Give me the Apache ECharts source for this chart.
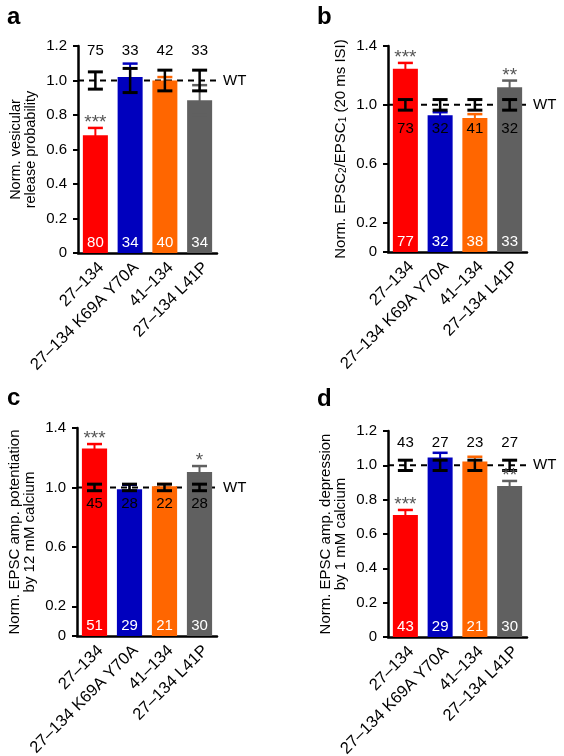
<!DOCTYPE html>
<html><head><meta charset="utf-8">
<script src="https://cdn.jsdelivr.net/npm/echarts@6/dist/echarts.min.js"></script>
<style>html,body{margin:0;padding:0;background:#fff}#c{width:564px;height:756px}</style>
</head><body><div id="c"></div>
<script>
// ---------- data ----------
const categories = ['27–134', '27–134 K69A Y70A', '41–134', '27–134 L41P'];
const wtRef = 1.0;

// a: Norm. vesicular release probability
const aMean  = [0.683, 1.02, 1.00, 0.886];
const aErr   = [0.042, 0.078, 0.02, 0.087];
const aWtErr = [0.05, 0.07, 0.06, 0.06];
const aWtN   = [75, 33, 42, 33];
const aMutN  = [80, 34, 40, 34];
const aStars = ['***', '', '', ''];
const aTicks = [0, 0.2, 0.4, 0.6, 0.8, 1.0, 1.2];

// b: Norm. EPSC2/EPSC1 (20 ms ISI)
const bMean  = [1.245, 0.93, 0.91, 1.12];
const bErr   = [0.04, 0.02, 0.027, 0.045];
const bWtErr = [0.036, 0.036, 0.036, 0.036];
const bWtN   = [73, 32, 41, 32];
const bMutN  = [77, 32, 38, 33];
const bStars = ['***', '', '', '**'];
const bTicks = [0, 0.2, 0.6, 1.0, 1.4];

// c: Norm. EPSC amp. potentiation by 12 mM calcium
const cMean  = [1.262, 0.988, 1.008, 1.104];
const cErr   = [0.03, 0.03, 0.015, 0.04];
const cWtErr = [0.022, 0.022, 0.022, 0.022];
const cWtN   = [45, 28, 22, 28];
const cMutN  = [51, 29, 21, 30];
const cStars = ['***', '', '', '*'];
const cTicks = [0, 0.2, 0.6, 1.0, 1.4];

// d: Norm. EPSC amp. depression by 1 mM calcium
const dMean  = [0.71, 1.046, 1.023, 0.879];
const dErr   = [0.03, 0.027, 0.027, 0.03];
const dWtErr = [0.03, 0.03, 0.03, 0.03];
const dWtN   = [43, 27, 23, 27];
const dMutN  = [43, 29, 21, 30];
const dStars = ['***', '', '', '**'];
const dTicks = [0, 0.2, 0.4, 0.6, 0.8, 1.0, 1.2];

// ---------- style / layout ----------
const barColors = ['#FF0000', '#0000BE', '#FF6600', '#606060'];
const FONT = '"Liberation Sans", Arial, Helvetica, sans-serif';
const FS = 15;

const panels = [
  { letter: 'a', lx: 7, ly: 18, grid: { left: 78, top: 46, width: 139, height: 207 }, max: 1.2, ticks: aTicks,
    name: 'Norm. vesicular\nrelease probability', nameFs: 14.5,
    mean: aMean, err: aErr, wtErr: aWtErr, wtN: aWtN, mutN: aMutN, stars: aStars, wtNAt: 1.17 },
  { letter: 'b', lx: 317, ly: 18, grid: { left: 388, top: 46, width: 139, height: 206 }, max: 1.4, ticks: bTicks,
    name: 'Norm. EPSC{s|2}/EPSC{s|1} (20 ms ISI)', nameFs: 15,
    mean: bMean, err: bErr, wtErr: bWtErr, wtN: bWtN, mutN: bMutN, stars: bStars, wtNAt: 0.84 },
  { letter: 'c', lx: 7, ly: 399, grid: { left: 77, top: 428, width: 140, height: 208 }, max: 1.4, ticks: cTicks,
    name: 'Norm. EPSC amp. potentiation\nby 12 mM calcium', nameFs: 15,
    mean: cMean, err: cErr, wtErr: cWtErr, wtN: cWtN, mutN: cMutN, stars: cStars, wtNAt: 0.892 },
  { letter: 'd', lx: 317, ly: 400, grid: { left: 388, top: 431, width: 139, height: 206 }, max: 1.2, ticks: dTicks,
    name: 'Norm. EPSC amp. depression\nby 1 mM calcium', nameFs: 15,
    mean: dMean, err: dErr, wtErr: dWtErr, wtN: dWtN, mutN: dMutN, stars: dStars, wtNAt: 1.13 }
];

const grids = [], xAxes = [], yAxes = [], series = [], graphics = [];

function errBar(color, wMain, wCap, hw) {
  return function (params, api) {
    const i = api.value(0), m = api.value(1), e = api.value(2);
    const top = api.coord([i, m + e]), bot = api.coord([i, m - e]);
    const c = typeof color === 'function' ? color(params.dataIndex) : color;
    return { type: 'group', children: [
      { type: 'line', shape: { x1: top[0], y1: top[1], x2: bot[0], y2: bot[1] }, style: { stroke: c, lineWidth: wMain } },
      { type: 'line', shape: { x1: top[0] - hw, y1: top[1], x2: top[0] + hw, y2: top[1] }, style: { stroke: c, lineWidth: wCap } },
      { type: 'line', shape: { x1: bot[0] - hw, y1: bot[1], x2: bot[0] + hw, y2: bot[1] }, style: { stroke: c, lineWidth: wCap } }
    ] };
  };
}

panels.forEach((p, k) => {
  grids.push(Object.assign({ containLabel: false }, p.grid));
  xAxes.push({
    type: 'category', gridIndex: k, data: categories,
    axisLine: { lineStyle: { color: '#000', width: 2.5 } },
    axisTick: { show: false },
    axisLabel: { show: false }
  });
  yAxes.push({
    type: 'value', gridIndex: k, min: 0, max: p.max,
    splitLine: { show: false },
    axisLine: { show: true, lineStyle: { color: '#000', width: 2.5 } },
    axisTick: { show: true, length: 5, customValues: p.ticks, lineStyle: { color: '#000', width: 2 } },
    axisLabel: { customValues: p.ticks, color: '#000', fontSize: FS, fontFamily: FONT, margin: 11,
      formatter: v => (v === 0 ? '0' : v.toFixed(1)) },
    name: p.name, nameLocation: 'middle', nameRotate: 90, nameGap: 40,
    nameTextStyle: { color: '#000', fontSize: p.nameFs, fontFamily: FONT, lineHeight: 14.5, align: 'center',
      rich: { s: { fontSize: 10, fontFamily: FONT, color: '#000', verticalAlign: 'bottom', lineHeight: 14 } } }
  });

  // rotated category labels
  series.push({
    type: 'custom', xAxisIndex: k, yAxisIndex: k, z: 5, silent: true, clip: false,
    data: categories.map((c, i) => [i, 0]),
    renderItem: (params, api) => {
      const pt = api.coord([api.value(0), api.value(1)]);
      return { type: 'text', x: pt[0] + 6, y: pt[1] + 12, rotation: Math.PI / 4,
        style: { text: categories[params.dataIndex], x: 0, y: 0, align: 'right', verticalAlign: 'middle',
          fill: '#000', fontSize: 16.5, fontFamily: FONT } };
    }
  });

  // dashed WT reference line + label
  series.push({
    type: 'custom', xAxisIndex: k, yAxisIndex: k, z: 1, silent: true,
    data: [[0, wtRef]],
    renderItem: (params, api) => {
      const cs = params.coordSys;
      const y = api.coord([0, api.value(1)])[1];
      const x0 = cs.x, x1 = cs.x + cs.width + 3;
      return { type: 'group', children: [
        { type: 'line', shape: { x1: x0, y1: y, x2: x1, y2: y }, style: { stroke: '#000', lineWidth: 2, lineDash: [6, 5] } },
        { type: 'text', style: { text: 'WT', x: x1 + 3, y: y, verticalAlign: 'middle', align: 'left', fill: '#000', fontSize: FS, fontFamily: FONT } }
      ] };
    }
  });

  // bars
  series.push({
    type: 'bar', xAxisIndex: k, yAxisIndex: k, z: 2, barWidth: '72%',
    data: p.mean.map((v, i) => ({ value: v, itemStyle: { color: barColors[i] } })),
    label: { show: true, position: 'insideBottom', distance: 3, color: '#fff', fontSize: FS, fontFamily: FONT,
      formatter: prm => String(p.mutN[prm.dataIndex]) }
  });

  // mutant error bars
  series.push({
    type: 'custom', xAxisIndex: k, yAxisIndex: k, z: 3, silent: true,
    data: p.mean.map((v, i) => [i, v, p.err[i]]),
    renderItem: errBar(i => barColors[i], 2, 2.5, 7.5)
  });

  // WT error bars
  series.push({
    type: 'custom', xAxisIndex: k, yAxisIndex: k, z: 4, silent: true,
    data: p.wtErr.map((e, i) => [i, wtRef, e]),
    renderItem: errBar('#000', 2.5, 3, 7.5)
  });

  // WT n labels
  series.push({
    type: 'custom', xAxisIndex: k, yAxisIndex: k, z: 5, silent: true,
    data: p.wtN.map((n, i) => [i, p.wtNAt, n]),
    renderItem: (params, api) => {
      const pt = api.coord([api.value(0), api.value(1)]);
      return { type: 'text', style: { text: String(api.value(2)), x: pt[0], y: pt[1], align: 'center', verticalAlign: 'middle', fill: '#000', fontSize: FS, fontFamily: FONT } };
    }
  });

  // significance stars
  series.push({
    type: 'custom', xAxisIndex: k, yAxisIndex: k, z: 5, silent: true,
    data: p.mean.map((v, i) => [i, v + p.err[i]]),
    renderItem: (params, api) => {
      const s = p.stars[params.dataIndex];
      if (!s) return null;
      const pt = api.coord([api.value(0), api.value(1)]);
      return { type: 'text', style: { text: s, x: pt[0], y: pt[1] - 5, align: 'center', verticalAlign: 'middle', fill: '#555', fontSize: 19, fontFamily: FONT } };
    }
  });

  graphics.push({ type: 'text', left: p.lx, top: p.ly - 13,
    style: { text: p.letter, fill: '#000', fontSize: 24, fontWeight: 'bold', fontFamily: FONT } });
});

const chart = echarts.init(document.getElementById('c'), null, { renderer: 'canvas' });
chart.setOption({
  animation: false,
  backgroundColor: '#fff',
  textStyle: { fontFamily: FONT },
  grid: grids, xAxis: xAxes, yAxis: yAxes, series: series, graphic: graphics
});
</script></body></html>
